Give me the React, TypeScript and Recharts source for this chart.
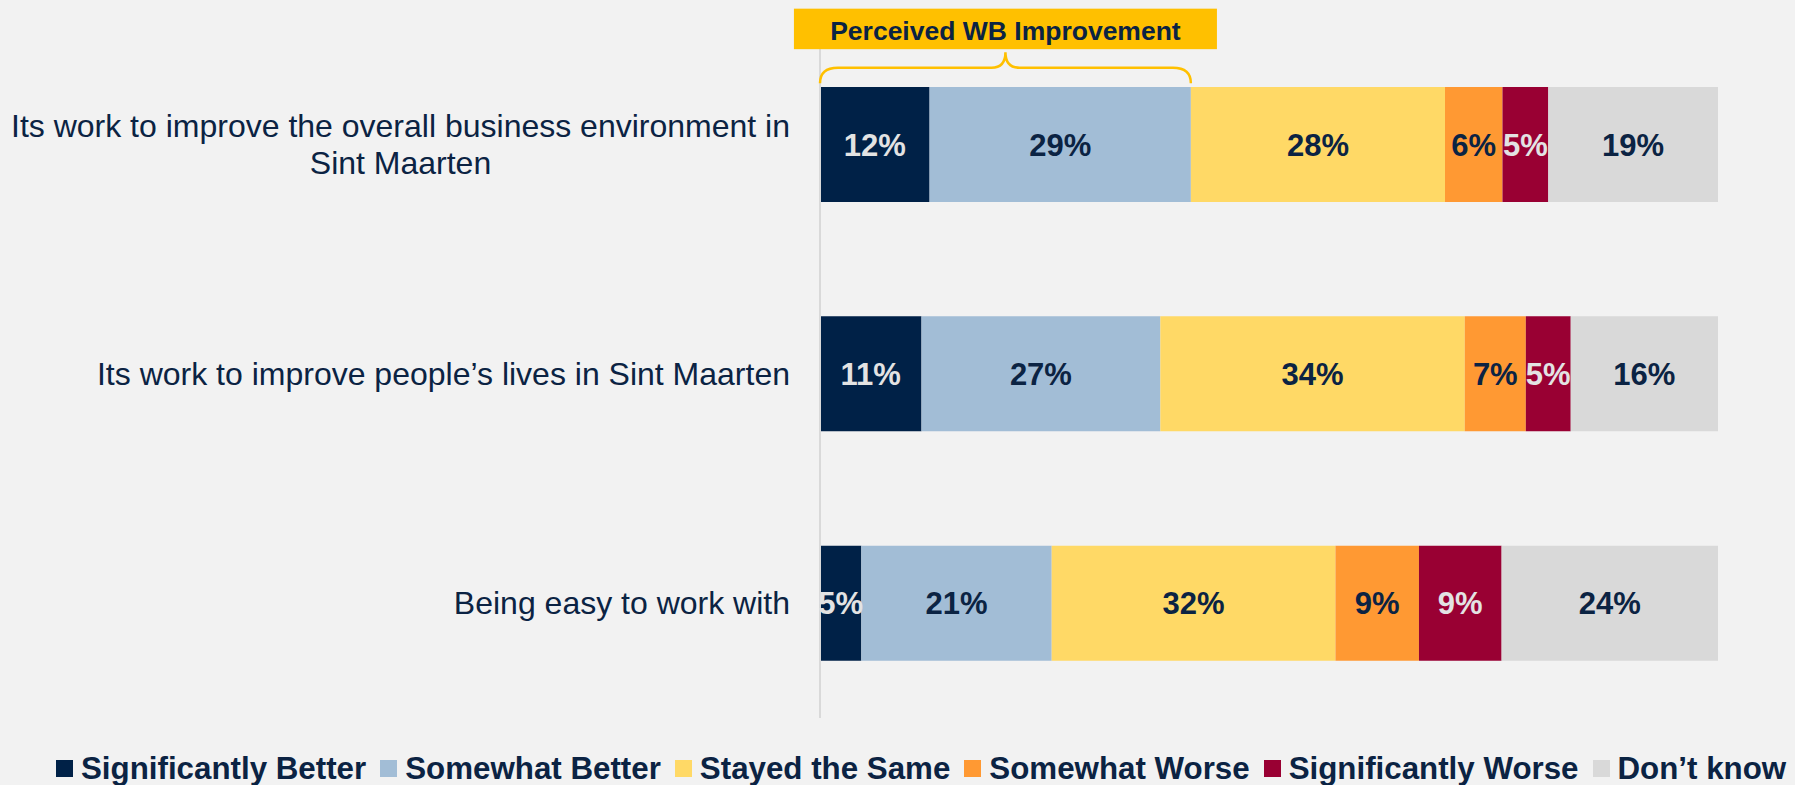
import React from 'react';
import { BarChart, Bar, XAxis, YAxis, LabelList, ReferenceLine } from 'recharts';

// ---------- data ----------
const categories = [
  'Its work to improve the overall business environment in Sint Maarten',
  'Its work to improve people’s lives in Sint Maarten',
  'Being easy to work with',
];
const categoryLines = [
  ['Its work to improve the overall business environment in', 'Sint Maarten'],
  ['Its work to improve people’s lives in Sint Maarten'],
  ['Being easy to work with'],
];
const seriesNames = [
  'Significantly Better',
  'Somewhat Better',
  'Stayed the Same',
  'Somewhat Worse',
  'Significantly Worse',
  'Don’t know',
];
const significantlyBetter = [12.2, 11.3, 4.6];
const somewhatBetter = [29.1, 26.6, 21.2];
const stayedTheSame = [28.3, 33.9, 31.6];
const somewhatWorse = [6.4, 6.8, 9.3];
const significantlyWorse = [5.1, 5.0, 9.2];
const dontKnow = [18.9, 16.4, 24.1];
const annotationTitle = 'Perceived WB Improvement';

// ---------- styles ----------
const FONT = '"Liberation Sans", Arial, Helvetica, sans-serif';
const TEXT = '#0B2343';
const LIGHT_TEXT = '#E3E3E3';
const BG = '#F2F2F2';
const ACCENT = '#FFC000';
const seriesKeys = ['s0', 's1', 's2', 's3', 's4', 's5'];
const seriesColors = ['#002147', '#A2BDD6', '#FFD966', '#FF9933', '#990033', '#D9D9D9'];
const labelColors = [LIGHT_TEXT, TEXT, TEXT, TEXT, LIGHT_TEXT, TEXT];
const seriesValues = [
  significantlyBetter,
  somewhatBetter,
  stayedTheSame,
  somewhatWorse,
  significantlyWorse,
  dontKnow,
];

const data = categories.map((name, i) => {
  const row: any = { name };
  seriesKeys.forEach((k, j) => {
    row[k] = seriesValues[j][i];
  });
  return row;
});

const BAR_SIZE = 115;
const braceEnd = significantlyBetter[0] + somewhatBetter[0];

const CategoryTick = (props: any) => {
  const { x, y, payload } = props;
  const idx = categories.indexOf(payload.value);
  const lines = idx >= 0 ? categoryLines[idx] : [String(payload.value)];
  const w = 810;
  const h = 130;
  return (
    <foreignObject x={x - w} y={y - h / 2} width={w} height={h}>
      <div
        style={{
          width: w,
          height: h,
          display: 'flex',
          justifyContent: 'flex-end',
          alignItems: 'center',
        }}
      >
        <div
          style={{
            textAlign: 'center',
            fontSize: 32,
            lineHeight: '37px',
            color: TEXT,
            fontFamily: FONT,
            whiteSpace: 'nowrap',
          }}
        >
          {lines.map((l, i) => (
            <div key={i}>{l}</div>
          ))}
        </div>
      </div>
    </foreignObject>
  );
};

const BraceShape = (props: any) => {
  const { x1, x2, y1 } = props;
  if (x1 == null || x2 == null || y1 == null) return null;
  const top = y1 - BAR_SIZE / 2;
  const mid = (x1 + x2) / 2;
  const yEnd = top - 4;
  const yH = top - 19.5;
  const yTip = top - 35;
  const r = 18;
  const rt = 14;
  const d = `M ${x1} ${yEnd} Q ${x1} ${yH} ${x1 + r} ${yH} L ${mid - rt} ${yH} Q ${mid} ${yH} ${mid} ${yTip} Q ${mid} ${yH} ${mid + rt} ${yH} L ${x2 - r} ${yH} Q ${x2} ${yH} ${x2} ${yEnd}`;
  const boxW = 423;
  const boxH = 40.5;
  const boxY = top - 78.5;
  return (
    <g>
      <path d={d} fill="none" stroke={ACCENT} strokeWidth={2.5} />
      <rect x={mid - boxW / 2} y={boxY} width={boxW} height={boxH} fill={ACCENT} />
      <text
        x={mid}
        y={top - 47.5}
        textAnchor="middle"
        fontSize={26.5}
        fontWeight="bold"
        fontFamily={FONT}
        fill={TEXT}
      >
        {annotationTitle}
      </text>
    </g>
  );
};

const Legend = () => (
  <div
    style={{
      position: 'absolute',
      left: 56,
      top: 753,
      display: 'flex',
      alignItems: 'center',
      fontFamily: FONT,
      fontWeight: 'bold',
      fontSize: 31.3,
      lineHeight: '31.5px',
      color: TEXT,
      whiteSpace: 'nowrap',
    }}
  >
    {seriesNames.map((n, i) => (
      <div key={n} style={{ display: 'flex', alignItems: 'center', marginRight: 14 }}>
        <div style={{ width: 17, height: 17, background: seriesColors[i], marginRight: 8 }} />
        <span>{n}</span>
      </div>
    ))}
  </div>
);

export default function App() {
  return (
    <div
      style={{
        position: 'absolute',
        left: 0,
        top: 0,
        width: 1795,
        height: 785,
        background: BG,
        fontFamily: FONT,
        overflow: 'hidden',
      }}
    >
      <BarChart
        width={1795}
        height={785}
        data={data}
        layout="vertical"
        margin={{ top: 30, right: 77, bottom: 67, left: 0 }}
        style={{ fontFamily: FONT }}
      >
        <XAxis type="number" domain={[0, 100]} hide />
        <YAxis
          type="category"
          dataKey="name"
          width={820}
          axisLine={false}
          tickLine={false}
          tickMargin={24}
          tick={<CategoryTick />}
          interval={0}
        />
        <ReferenceLine x={0} stroke="#D9D9D9" strokeWidth={2} />
        {seriesKeys.map((k, j) => (
          <Bar
            key={k}
            dataKey={k}
            name={seriesNames[j]}
            stackId="a"
            fill={seriesColors[j]}
            barSize={BAR_SIZE}
            isAnimationActive={false}
          >
            <LabelList
              dataKey={k}
              position="center"
              fill={labelColors[j]}
              fontSize={31}
              fontWeight="bold"
              fontFamily={FONT}
              formatter={(v: any) => `${Math.round(Number(v))}%`}
            />
          </Bar>
        ))}
        <ReferenceLine
          segment={[
            { x: 0, y: categories[0] },
            { x: braceEnd, y: categories[0] },
          ]}
          shape={<BraceShape />}
          ifOverflow="visible"
        />
      </BarChart>
      <Legend />
    </div>
  );
}
